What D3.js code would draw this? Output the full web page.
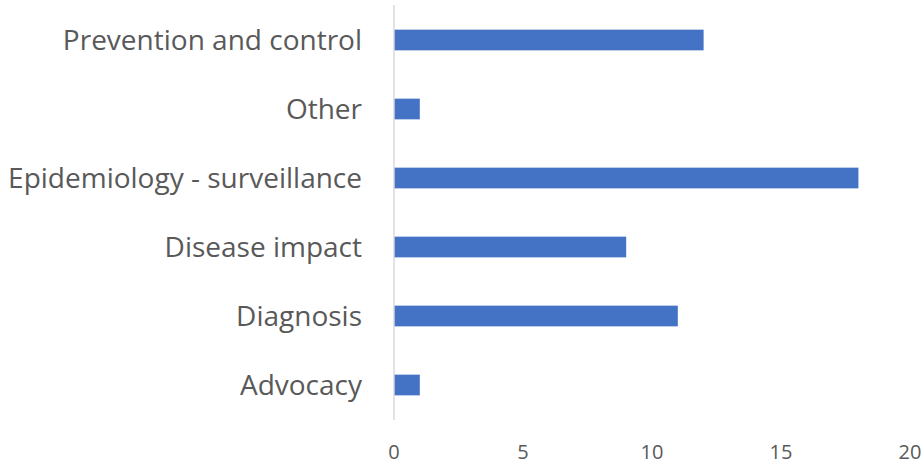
<!DOCTYPE html>
<html><head><meta charset="utf-8">
<script src="https://cdn.jsdelivr.net/npm/d3@7"></script>
<style>body{margin:0;background:#fff;} text{font-family:"Open Sans",sans-serif;fill:#595959;}</style>
</head><body>
<svg id="c" width="923" height="463"></svg>
<script>
const categories = ["Prevention and control","Other","Epidemiology - surveillance","Disease impact","Diagnosis","Advocacy"];
const values = [12,1,18,9,11,1];
const tickValues = [0,5,10,15,20];

const svg = d3.select("#c");
const x = d3.scaleLinear().domain([0,20]).range([394,910]);
const y = d3.scaleBand().domain(categories).range([5.5,419.5]).paddingInner(0.7).paddingOuter(0.35);

svg.append("g").selectAll("rect").data(categories).join("rect")
  .attr("x", x(0)).attr("y", d=>y(d))
  .attr("width", (d,i)=>x(values[i])-x(0)).attr("height", y.bandwidth())
  .attr("fill","#4472c4");

svg.append("line").attr("x1",x(0)).attr("x2",x(0)).attr("y1",5).attr("y2",420)
  .attr("stroke","#d9d9d9").attr("stroke-width",1.5);

svg.append("g").selectAll("text").data(categories).join("text")
  .attr("x", 362).attr("y", d=>y(d)+y.bandwidth()/2 - 1.5)
  .attr("text-anchor","end").attr("dominant-baseline","central")
  .attr("font-size", 28).text(d=>d);

svg.append("g").selectAll("text").data(tickValues).join("text")
  .attr("x", d=>x(d)).attr("y", 451)
  .attr("text-anchor","middle").attr("dominant-baseline","central")
  .attr("font-size", 20).text(d=>d);
</script>
</body></html>
